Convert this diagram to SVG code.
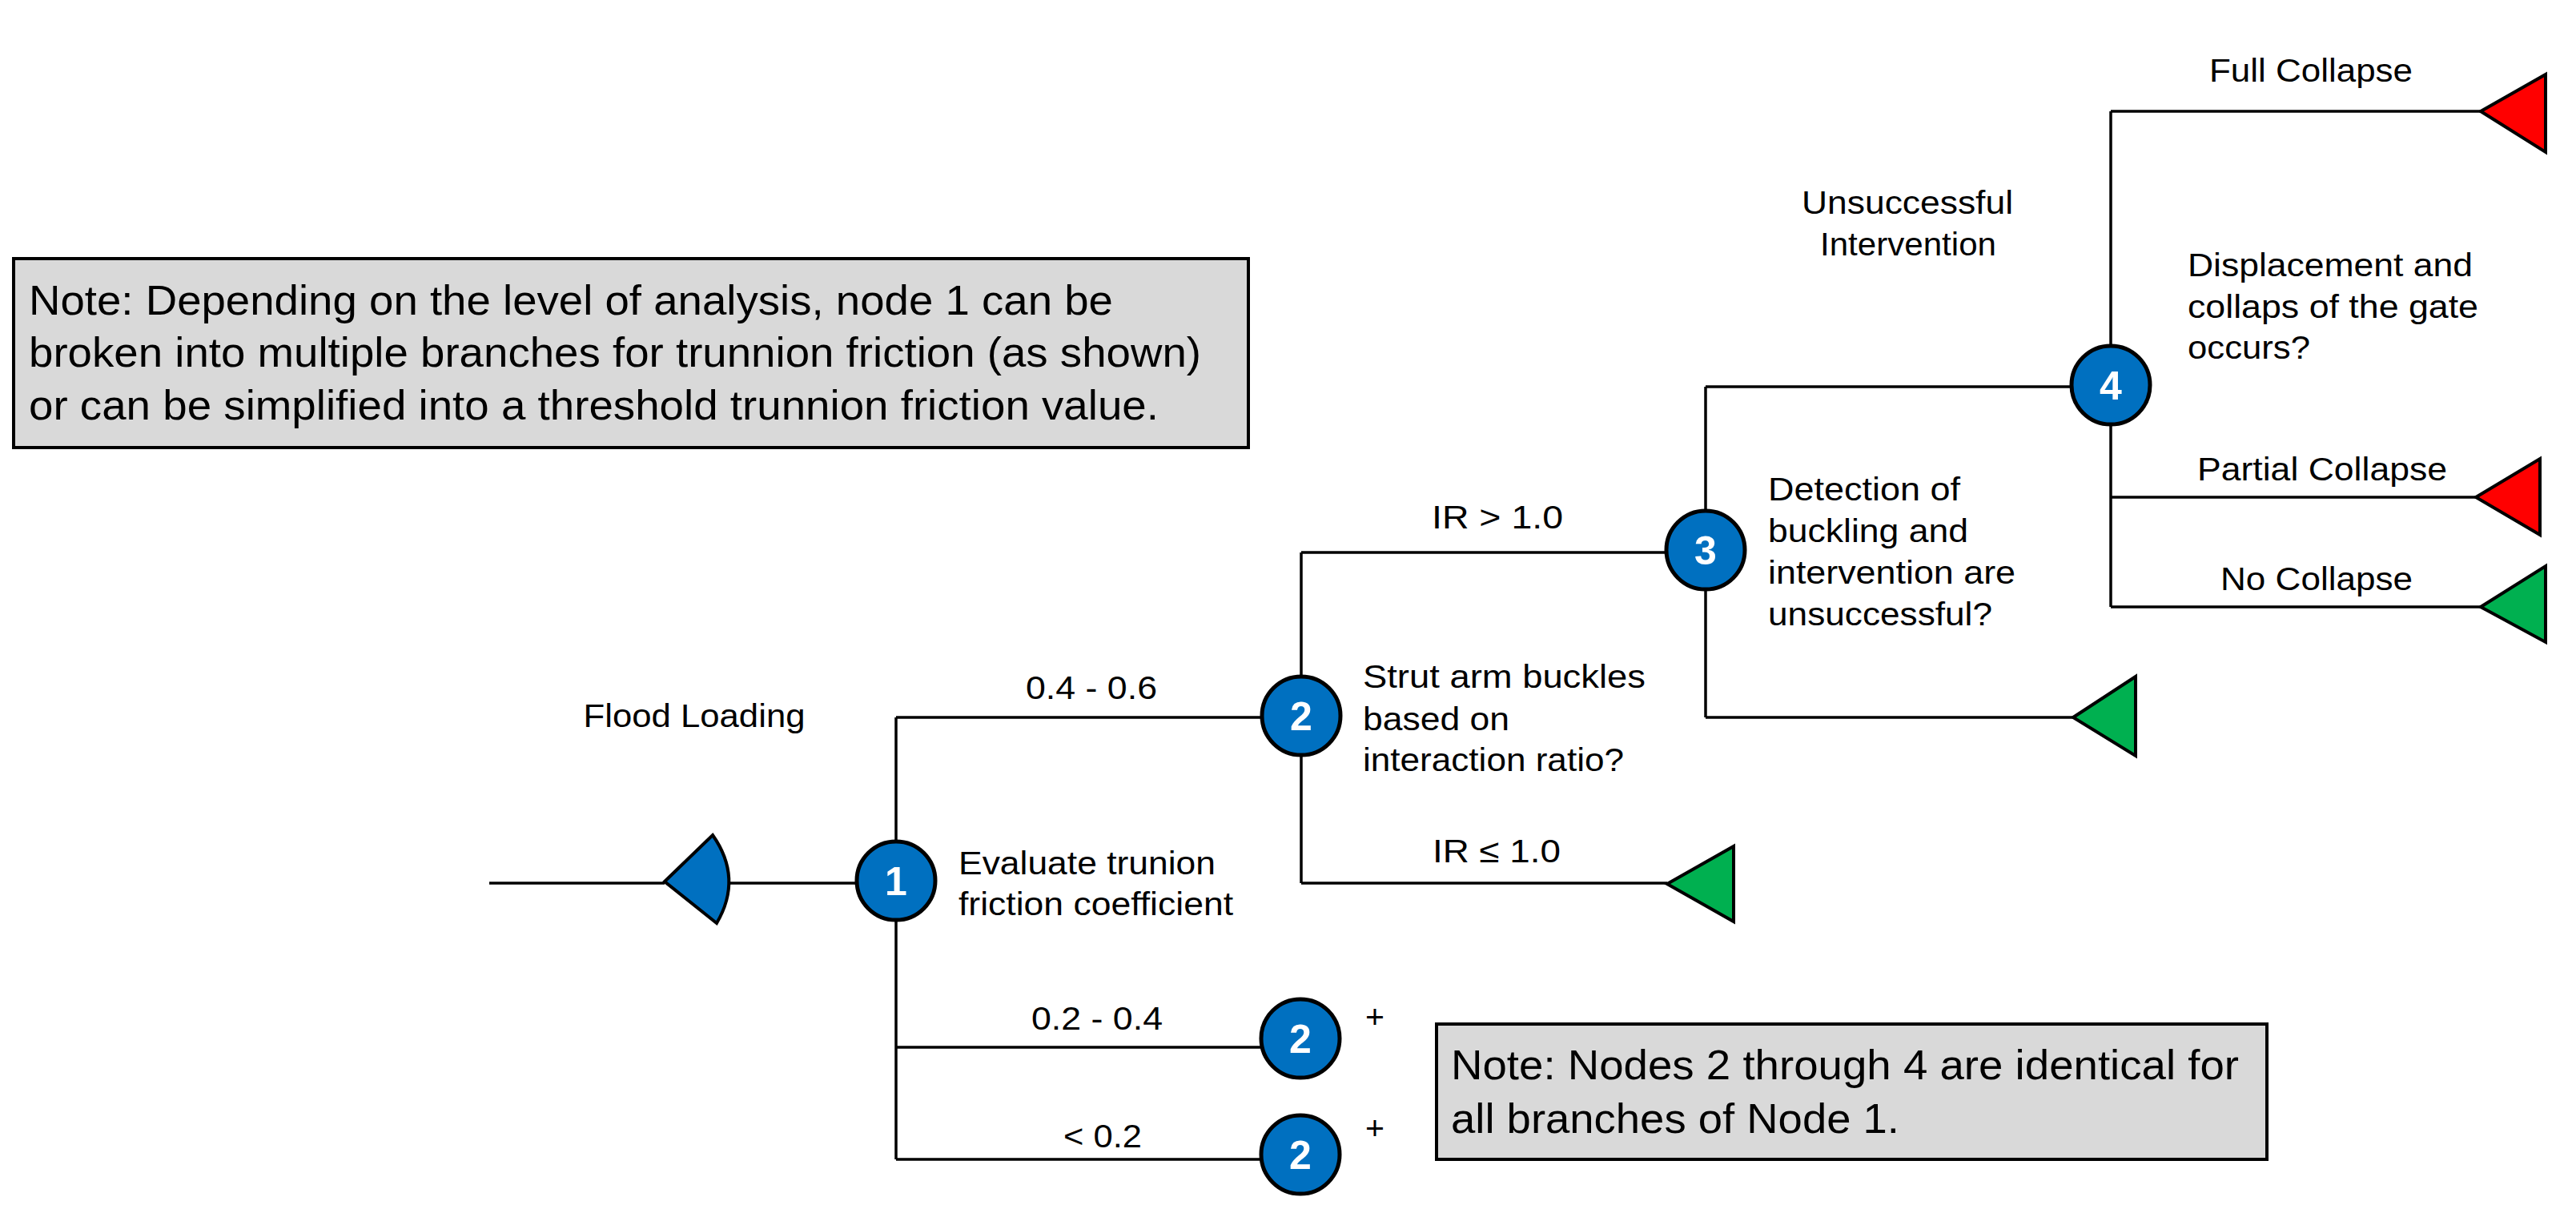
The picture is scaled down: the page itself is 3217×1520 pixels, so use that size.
<svg xmlns="http://www.w3.org/2000/svg" width="3217" height="1520" viewBox="0 0 3217 1520">
<style>
.ln{fill:none;stroke:#000;stroke-width:3.5}
.nd{fill:#0070c0;stroke:#000;stroke-width:5}
.num{font-family:"Liberation Sans",Arial,sans-serif;font-weight:bold;font-size:50px;fill:#fff;text-anchor:middle}
.t{font-family:"Liberation Sans",Arial,sans-serif;font-size:41px;fill:#000}
.c{text-anchor:middle}
.note{font-family:"Liberation Sans",Arial,sans-serif;font-size:52px;fill:#000}
.box{fill:#d9d9d9;stroke:#000;stroke-width:4}
.red{fill:#ff0000;stroke:#000;stroke-width:4;stroke-linejoin:miter}
.grn{fill:#00b050;stroke:#000;stroke-width:4;stroke-linejoin:miter}
</style>
<rect width="3217" height="1520" fill="#fff"/>
<g id="connectors">
<path class="ln" d="M611,1103 H830"/>
<path class="ln" d="M910,1103 H1119"/>
<path class="ln" d="M1119,896 V1448"/>
<path class="ln" d="M1119,896 H1625"/>
<path class="ln" d="M1119,1308 H1624"/>
<path class="ln" d="M1119,1448 H1624"/>
<path class="ln" d="M1625,690 V1103"/>
<path class="ln" d="M1625,690 H2130"/>
<path class="ln" d="M1625,1103 H2082"/>
<path class="ln" d="M2130,483 V896"/>
<path class="ln" d="M2130,483 H2636"/>
<path class="ln" d="M2130,896 H2589"/>
<path class="ln" d="M2636,139 V758"/>
<path class="ln" d="M2636,139 H3098"/>
<path class="ln" d="M2636,621 H3092"/>
<path class="ln" d="M2636,758 H3098"/>
</g>
<g id="labels">
<text class="t c" x="867" y="908" textLength="277" lengthAdjust="spacingAndGlyphs">Flood Loading</text>
<text class="t c" x="1363" y="873" textLength="164" lengthAdjust="spacingAndGlyphs">0.4 - 0.6</text>
<text class="t c" x="1870" y="660" textLength="164" lengthAdjust="spacingAndGlyphs">IR &gt; 1.0</text>
<text class="t c" x="1869" y="1077" textLength="160" lengthAdjust="spacingAndGlyphs">IR ≤ 1.0</text>
<text class="t c" x="1370" y="1286" textLength="164" lengthAdjust="spacingAndGlyphs">0.2 - 0.4</text>
<text class="t c" x="1377" y="1433" textLength="98" lengthAdjust="spacingAndGlyphs">&lt; 0.2</text>
<text class="t c" x="1717" y="1284">+</text>
<text class="t c" x="1717" y="1423">+</text>
<text class="t c" x="2382" y="267" textLength="264" lengthAdjust="spacingAndGlyphs">Unsuccessful</text>
<text class="t c" x="2383" y="319" textLength="220" lengthAdjust="spacingAndGlyphs">Intervention</text>
<text class="t c" x="2886" y="102" textLength="254" lengthAdjust="spacingAndGlyphs">Full Collapse</text>
<text class="t c" x="2900" y="600" textLength="312" lengthAdjust="spacingAndGlyphs">Partial Collapse</text>
<text class="t c" x="2893" y="737" textLength="240" lengthAdjust="spacingAndGlyphs">No Collapse</text>
</g>
<g id="start">
<path d="M830,1101 L890,1043 Q928,1097 895,1153 Z" fill="#0070c0" stroke="#000" stroke-width="4" stroke-linejoin="miter"/>
</g>
<g id="node1">
<circle class="nd" cx="1119" cy="1100" r="49"/>
<text class="num" x="1119" y="1118">1</text>
<text class="t" x="1197" y="1092" textLength="321" lengthAdjust="spacingAndGlyphs">Evaluate  trunion</text>
<text class="t" x="1197" y="1143" textLength="343" lengthAdjust="spacingAndGlyphs">friction coefficient</text>
</g>
<g id="node2a">
<circle class="nd" cx="1625" cy="894" r="49"/>
<text class="num" x="1625" y="912">2</text>
<text class="t" x="1702" y="859" textLength="353" lengthAdjust="spacingAndGlyphs">Strut arm buckles</text>
<text class="t" x="1702" y="912" textLength="183" lengthAdjust="spacingAndGlyphs">based on</text>
<text class="t" x="1702" y="963" textLength="326" lengthAdjust="spacingAndGlyphs">interaction ratio?</text>
</g>
<g id="node2b">
<circle class="nd" cx="1624" cy="1297" r="49"/>
<text class="num" x="1624" y="1315">2</text>
</g>
<g id="node2c">
<circle class="nd" cx="1624" cy="1442" r="49"/>
<text class="num" x="1624" y="1460">2</text>
</g>
<g id="node3">
<circle class="nd" cx="2130" cy="687" r="49"/>
<text class="num" x="2130" y="705">3</text>
<text class="t" x="2208" y="625" textLength="240" lengthAdjust="spacingAndGlyphs">Detection of</text>
<text class="t" x="2208" y="677" textLength="250" lengthAdjust="spacingAndGlyphs">buckling and</text>
<text class="t" x="2208" y="729" textLength="309" lengthAdjust="spacingAndGlyphs">intervention  are</text>
<text class="t" x="2208" y="781" textLength="280" lengthAdjust="spacingAndGlyphs">unsuccessful?</text>
</g>
<g id="node4">
<circle class="nd" cx="2636" cy="481" r="49"/>
<text class="num" x="2636" y="499">4</text>
<text class="t" x="2732" y="345" textLength="356" lengthAdjust="spacingAndGlyphs">Displacement and</text>
<text class="t" x="2732" y="397" textLength="363" lengthAdjust="spacingAndGlyphs">collaps of the gate</text>
<text class="t" x="2732" y="448" textLength="153" lengthAdjust="spacingAndGlyphs">occurs?</text>
</g>
<g id="end-ir-low"><polygon class="grn" points="2082,1104 2165,1057 2165,1151"/></g>
<g id="end-successful"><polygon class="grn" points="2589,896 2667,845 2667,944"/></g>
<g id="end-full"><polygon class="red" points="3098,139 3179,93 3179,190"/></g>
<g id="end-partial"><polygon class="red" points="3092,621 3172,573 3172,668"/></g>
<g id="end-none"><polygon class="grn" points="3098,758 3179,707 3179,802"/></g>
<g id="note1">
<rect class="box" x="17" y="323" width="1542" height="236"/>
<text class="note" x="36" y="393" textLength="1354" lengthAdjust="spacingAndGlyphs">Note: Depending on the level of analysis, node 1 can be</text>
<text class="note" x="36" y="458" textLength="1464" lengthAdjust="spacingAndGlyphs">broken into multiple branches for trunnion friction (as shown)</text>
<text class="note" x="36" y="524" textLength="1411" lengthAdjust="spacingAndGlyphs">or can be simplified into a threshold trunnion friction value.</text>
</g>
<g id="note2">
<rect class="box" x="1794" y="1279" width="1037" height="169"/>
<text class="note" x="1812" y="1348" textLength="984" lengthAdjust="spacingAndGlyphs">Note: Nodes 2 through 4 are identical for</text>
<text class="note" x="1812" y="1415" textLength="560" lengthAdjust="spacingAndGlyphs">all branches of Node 1.</text>
</g>
</svg>
